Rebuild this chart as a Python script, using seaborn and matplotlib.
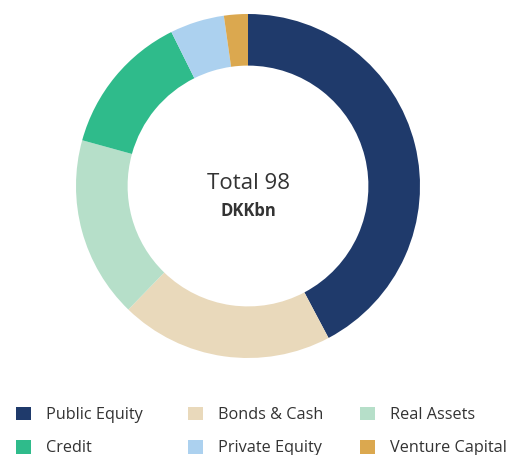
import matplotlib
matplotlib.use("Agg")
import matplotlib.pyplot as plt
import seaborn as sns
from matplotlib.patches import Patch

categories = ["Public Equity", "Bonds & Cash", "Real Assets", "Credit", "Private Equity", "Venture Capital"]
values = [41.4, 19.6, 16.7, 13.1, 5.0, 2.2]
colors = ["#1f3a6b", "#e9d9bb", "#b6dfc9", "#2fbb8b", "#acd1ef", "#dba84f"]
center_title = "Total 98"
center_unit = "DKKbn"

sns.set_theme(style="white")
plt.rcParams["font.family"] = ["Open Sans", "DejaVu Sans"]

fig = plt.figure(figsize=(5.08, 4.55), dpi=100)
ax = fig.add_axes([(248 - 172) / 508, (269 - 172) / 455, 344 / 508, 344 / 455])
ax.pie(values, colors=colors, startangle=90, counterclock=False, radius=1.0,
       wedgeprops=dict(width=0.30, linewidth=0))
ax.set_xlim(-1, 1)
ax.set_ylim(-1, 1)
ax.set_aspect("equal")
ax.axis("off")

ax.text(0, 0.017, center_title, ha="center", va="center", fontsize=16, color="#333333")
ax.text(0, -0.145, center_unit, ha="center", va="center", fontsize=12, fontweight="bold", color="#333333")

# legend: three columns of two entries each (row-major order of the reference)
col_x = [16, 188, 360]
for c in range(3):
    idx = [c, c + 3]
    handles = [Patch(facecolor=colors[i], edgecolor="none") for i in idx]
    labels = [categories[i] for i in idx]
    leg = fig.legend(handles, labels, loc="center left",
                     bbox_to_anchor=(col_x[c] / 508, 1 - 431.5 / 455),
                     frameon=False, fontsize=11.7, handlelength=0.92, handleheight=0.92,
                     handletextpad=0.92, labelspacing=1.05, borderaxespad=0,
                     borderpad=0, labelcolor="#333333")

fig.savefig("out.png", dpi=100)
